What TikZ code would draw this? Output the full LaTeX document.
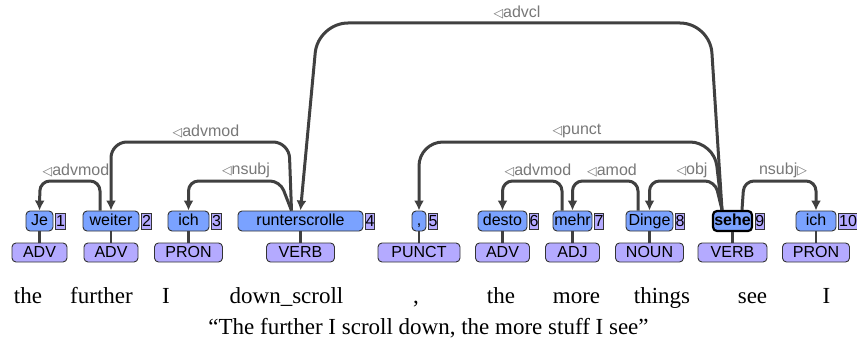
\documentclass[tikz,border=0pt]{standalone}
\usepackage{fontspec}
\setmainfont{Liberation Sans}
\newfontfamily\glossfont{Liberation Serif}
\newfontfamily\symfont{DejaVu Sans}
\usetikzlibrary{arrows.meta}
\definecolor{wblue}{RGB}{122,162,255}
\definecolor{plav}{RGB}{180,170,255}
\definecolor{arcg}{RGB}{64,64,64}
\definecolor{labg}{RGB}{120,120,120}
\newcommand{\ltri}{{\symfont\fontsize{12.5}{12.5}\selectfont ◁}}
\newcommand{\rtri}{{\symfont\fontsize{12.5}{12.5}\selectfont ▷}}
\begin{document}
\begin{tikzpicture}[x=1pt,y=-1pt,
  word/.style={draw=black!80, fill=wblue, rounded corners=4pt, line width=0.9pt,
    minimum height=20pt, inner xsep=1pt, inner ysep=0pt, text height=11.5pt, text depth=3pt,
    font=\fontsize{16}{16}\selectfont},
  headword/.style={word, draw=black, line width=2.2pt, font=\fontsize{16}{16}\selectfont\bfseries},
  num/.style={draw=black!80, fill=plav, line width=0.7pt, minimum height=16pt, minimum width=8pt,
    inner xsep=0.3pt, inner ysep=0pt, text height=11.5pt, text depth=1pt, anchor=west,
    font=\fontsize{16}{16}\selectfont},
  posbox/.style={draw=black!80, fill=plav, rounded corners=4pt, line width=0.9pt,
    minimum height=19pt, inner sep=0pt, text height=11.5pt, text depth=2pt,
    font=\fontsize{16}{16}\selectfont},
  dep/.style={draw=arcg, line width=3pt, -{Latex[length=10pt,width=10pt]}},
  lab/.style={text=labg, inner sep=0pt, font=\fontsize{16}{16}\selectfont},
  tie/.style={draw=arcg, line width=2.2pt},
  gloss/.style={inner sep=0pt, anchor=base, font=\glossfont\fontsize{23}{23}\selectfont}
]
\useasboundingbox (0,0) rectangle (857,345);

% words
\node[word, minimum width=27pt] (w1) at (39.5,221) {Je};
\node[word, minimum width=56pt] (w2) at (111,221) {weiter};
\node[word, minimum width=41pt] (w3) at (188.5,221) {ich};
\node[word, minimum width=125pt] (w4) at (300.5,221) {runterscrolle};
\node[word, minimum width=14pt] (w5) at (419,221) {,};
\node[word, minimum width=49pt] (w6) at (502.5,221) {desto};
\node[word, minimum width=39pt] (w7) at (572.5,221) {mehr};
\node[word, minimum width=47pt] (w8) at (649.5,221) {Dinge};
\node[headword, minimum width=39pt] (w9) at (732.5,221) {sehe};
\node[word, minimum width=40pt] (w10) at (816,221) {ich};

% numbers
\node[num] (n1) at ([xshift=2pt]w1.east) {1};
\node[num] (n2) at ([xshift=2pt]w2.east) {2};
\node[num] (n3) at ([xshift=2pt]w3.east) {3};
\node[num] (n4) at ([xshift=1.5pt]w4.east) {4};
\node[num] (n5) at ([xshift=1.5pt]w5.east) {5};
\node[num] (n6) at ([xshift=1.5pt]w6.east) {6};
\node[num] (n7) at ([xshift=1.5pt]w7.east) {7};
\node[num] (n8) at ([xshift=1.5pt]w8.east) {8};
\node[num] (n9) at ([xshift=1.5pt]w9.east) {9};
\node[num] (n10) at ([xshift=2pt]w10.east) {10};

% POS
\node[posbox, minimum width=55pt] (p1) at (39.5,252.5) {ADV};
\node[posbox, minimum width=54pt] (p2) at (111,252.5) {ADV};
\node[posbox, minimum width=68pt] (p3) at (188.5,252.5) {PRON};
\node[posbox, minimum width=68pt] (p4) at (300.5,252.5) {VERB};
\node[posbox, minimum width=82pt] (p5) at (419,252.5) {PUNCT};
\node[posbox, minimum width=54pt] (p6) at (502.5,252.5) {ADV};
\node[posbox, minimum width=54pt] (p7) at (572.5,252.5) {ADJ};
\node[posbox, minimum width=68pt] (p8) at (649.5,252.5) {NOUN};
\node[posbox, minimum width=69pt] (p9) at (732.5,252.5) {VERB};
\node[posbox, minimum width=67pt] (p10) at (816,252.5) {PRON};

\foreach \i in {1,...,10}{\draw[tie] (w\i.south) -- (p\i.north);}

% arcs
\draw[dep, rounded corners=10pt] ([xshift=-11pt]w2.north) -- (100,181) -- (40,181) -- (w1.north);
\draw[dep, rounded corners=16pt] ([xshift=-9pt]w4.north) -- (289,142) -- (111,142) -- (w2.north);
\draw[dep, rounded corners=10pt] ([xshift=-9pt]w4.north) -- (280,181) -- (188.5,181) -- (w3.north);
\draw[dep, rounded corners=30pt] ([xshift=-10.5pt]w9.north) -- (710,23) -- (318,23) -- (w4.north);
\draw[dep, rounded corners=24pt] ([xshift=-10.5pt]w9.north) -- (714,142) -- (419,142) -- (w5.north);
\draw[dep, rounded corners=10pt] ([xshift=-10.5pt]w7.north) -- (562,181) -- (502.5,181) -- (w6.north);
\draw[dep, rounded corners=10pt] ([xshift=-11.5pt]w8.north) -- (638,181) -- (572.5,181) -- (w7.north);
\draw[dep, rounded corners=10pt] ([xshift=-10.5pt]w9.north) -- (715,181) -- (649.5,181) -- (w8.north);
\draw[dep, rounded corners=10pt] ([xshift=9.5pt]w9.north) -- (744,181) -- (816,181) -- (w10.north);

% labels
\node[lab] (l1) at (76,170) {\ltri advmod};
\node[lab] (l2) at (206,131) {\ltri advmod};
\node[lab] (l3) at (246,170) {\ltri nsubj};
\node[lab] (l4) at (517,12) {\ltri advcl};
\node[lab] (l5) at (577,131) {\ltri punct};
\node[lab] (l6) at (538,170) {\ltri advmod};
\node[lab] (l7) at (612,170) {\ltri amod};
\node[lab] (l8) at (692,170) {\ltri obj};
\node[lab] (l9) at (783,170) {nsubj\rtri};

% glosses
\node[gloss] (g1) at (28,303) {the};
\node[gloss] (g2) at (101.5,303) {further};
\node[gloss] (g3) at (166,303) {I};
\node[gloss] (g4) at (286.5,303) {down\_scroll};
\node[gloss] (g5) at (416,303) {,};
\node[gloss] (g6) at (501,303) {the};
\node[gloss] (g7) at (576.5,303) {more};
\node[gloss] (g8) at (662,303) {things};
\node[gloss] (g9) at (752.5,303) {see};
\node[gloss] (g10) at (826.5,303) {I};
\node[gloss] (tr) at (428.5,334) {“The further I scroll down, the more stuff I see”};
\end{tikzpicture}
\end{document}
